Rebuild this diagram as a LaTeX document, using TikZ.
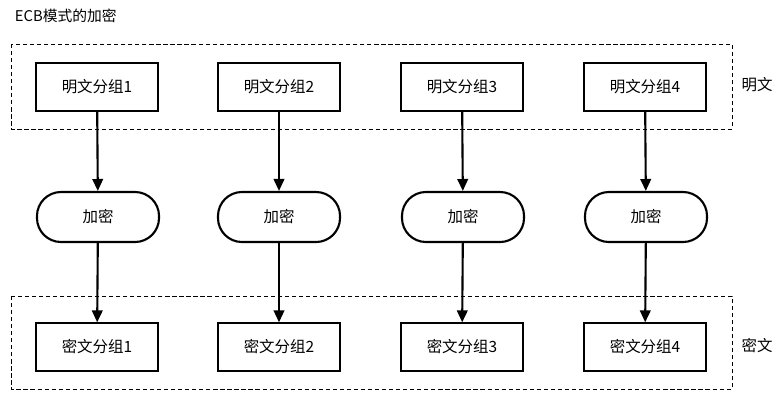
\documentclass[tikz,border=0pt]{standalone}
\usepackage{fontspec}
\setmainfont{Noto Sans CJK SC}
\usepackage{tikz}
\usetikzlibrary{arrows.meta, positioning}

\tikzset{
  blockbox/.style={draw, line width=1.5pt, minimum width=3.05cm, minimum height=1.18cm, inner sep=0pt, font=\fontsize{11}{13}\selectfont},
  cryptbox/.style={draw, line width=1.5pt, rounded corners=0.6cm, minimum width=3.05cm, minimum height=1.25cm, inner sep=0pt, font=\fontsize{11}{13}\selectfont},
  flow/.style={line width=1.5pt, -{Triangle[width=7.5pt,length=8.5pt]}},
  groupbox/.style={draw, thin, dash pattern=on 3pt off 2pt},
}

\begin{document}
\begin{tikzpicture}[x=0.025cm, y=-0.025cm]
\useasboundingbox (0,0) rectangle (780,410);

\node[anchor=west, font=\fontsize{10.5}{12}\selectfont] (title) at (10,16) {ECB模式的加密};

% dashed groups
\draw[groupbox] (11,44) rectangle (732,129);
\draw[groupbox] (11,296) rectangle (732,389);
\node[font=\fontsize{11}{13}\selectfont] (plainlbl) at (757,85) {明文};
\node[font=\fontsize{11}{13}\selectfont] (cipherlbl) at (757,346) {密文};

% plaintext blocks
\node[blockbox] (p1) at (97,87) {明文分组1};
\node[blockbox] (p2) at (279,87) {明文分组2};
\node[blockbox] (p3) at (462,87) {明文分组3};
\node[blockbox] (p4) at (645,87) {明文分组4};

% encryption
\node[cryptbox] (e1) at (98,217) {加密};
\node[cryptbox] (e2) at (279,217) {加密};
\node[cryptbox] (e3) at (463,217) {加密};
\node[cryptbox] (e4) at (646,217) {加密};

% ciphertext blocks
\node[blockbox] (c1) at (97,347) {密文分组1};
\node[blockbox] (c2) at (279,347) {密文分组2};
\node[blockbox] (c3) at (462,347) {密文分组3};
\node[blockbox] (c4) at (645,347) {密文分组4};

\draw[flow] (p1) -- (e1);
\draw[flow] (p2) -- (e2);
\draw[flow] (p3) -- (e3);
\draw[flow] (p4) -- (e4);
\draw[flow] (e1) -- (c1);
\draw[flow] (e2) -- (c2);
\draw[flow] (e3) -- (c3);
\draw[flow] (e4) -- (c4);
\end{tikzpicture}
\end{document}
